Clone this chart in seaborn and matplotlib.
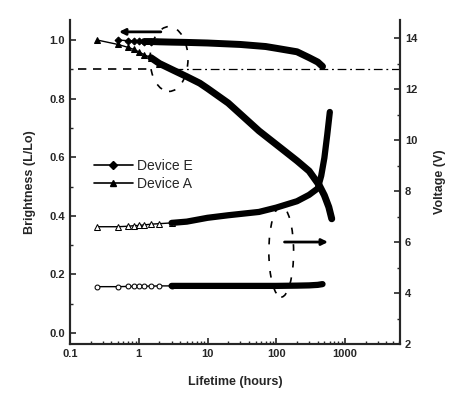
import matplotlib
matplotlib.use("Agg")
import matplotlib.pyplot as plt
from matplotlib.patches import Ellipse
from matplotlib.lines import Line2D
from matplotlib.ticker import MultipleLocator, FuncFormatter, LogLocator
import seaborn as sns

# brightness (left axis)
hours_bright_a = [0.25, 0.5, 0.7, 0.85, 1.0, 1.2, 1.5, 2, 3, 5, 7.7, 10, 20, 56, 110, 200, 300, 420, 500, 580, 640]
bright_a = [1.0, 0.985, 0.975, 0.968, 0.96, 0.95, 0.94, 0.92, 0.90, 0.875, 0.853, 0.835, 0.785, 0.69, 0.636, 0.588, 0.553, 0.505, 0.47, 0.43, 0.39]
hours_bright_e = [0.5, 0.7, 0.85, 1.0, 1.2, 1.5, 2, 3, 5, 10, 30, 70, 100, 200, 300, 400, 470]
bright_e = [1.0, 0.998, 0.997, 0.996, 0.995, 0.995, 0.994, 0.993, 0.992, 0.99, 0.985, 0.978, 0.972, 0.96, 0.94, 0.925, 0.91]

# voltage (right axis)
hours_volt_a = [0.25, 0.5, 0.7, 0.85, 1.0, 1.2, 1.5, 2, 3, 5, 10, 20, 56, 100, 200, 300, 400, 450, 500, 550, 600]
volt_a = [6.6, 6.6, 6.62, 6.64, 6.65, 6.67, 6.7, 6.72, 6.75, 6.8, 6.95, 7.05, 7.18, 7.35, 7.6, 7.85, 8.1, 8.6, 9.3, 10.2, 11.1]
hours_volt_e = [0.25, 0.5, 0.7, 0.85, 1.0, 1.2, 1.5, 2, 3, 5, 10, 30, 100, 200, 300, 400, 470]
volt_e = [4.25, 4.25, 4.26, 4.26, 4.27, 4.27, 4.27, 4.28, 4.28, 4.28, 4.28, 4.28, 4.28, 4.29, 4.3, 4.32, 4.35]

sns.set_style("ticks")
plt.rcParams['font.family'] = ['Liberation Sans', 'DejaVu Sans']

fig = plt.figure(figsize=(4.61, 3.95), dpi=100)
ax = fig.add_axes([0.1518, 0.129, 0.716, 0.82])
ax2 = ax.twinx()

thick = dict(color='k', sort=False, solid_capstyle='round', solid_joinstyle='round')

# thin start with markers, thick dense part afterwards
sns.lineplot(x=hours_bright_a, y=bright_a, ax=ax, color='k', lw=1, marker='^', markersize=5,
             markeredgecolor='k', markevery=slice(0, 8), sort=False)
sns.lineplot(x=hours_bright_a[6:], y=bright_a[6:], ax=ax, lw=5, **thick)
sns.lineplot(x=hours_bright_e, y=bright_e, ax=ax, color='k', lw=1, marker='D', markersize=3.5,
             markeredgecolor='k', markevery=slice(0, 6), sort=False)
sns.lineplot(x=hours_bright_e[4:], y=bright_e[4:], ax=ax, lw=5, **thick)

sns.lineplot(x=hours_volt_a, y=volt_a, ax=ax2, color='k', lw=1, marker='^', markersize=4,
             markerfacecolor='white', markeredgecolor='k', markevery=slice(0, 9), sort=False)
sns.lineplot(x=hours_volt_a[8:], y=volt_a[8:], ax=ax2, lw=4.5, **thick)
sns.lineplot(x=hours_volt_e, y=volt_e, ax=ax2, color='k', lw=1, marker='o', markersize=3.5,
             markerfacecolor='white', markeredgecolor='k', markevery=slice(0, 9), sort=False)
sns.lineplot(x=hours_volt_e[8:], y=volt_e[8:], ax=ax2, lw=4.5, **thick)

# 90% brightness reference
ax.plot([0.13, 1.6], [0.9, 0.9], color='k', lw=1.2, dashes=[5, 4])
ax.plot([3.3, 6300], [0.9, 0.9], color='k', lw=0.9, dashes=[7, 3, 1.5, 3])

# ellipses and arrows marking which axis
ax.add_patch(Ellipse((0.3, 0.88), 0.115, 0.2, transform=ax.transAxes, fill=False,
                     ls=(0, (4, 6)), lw=1.2, color='k'))
ax.add_patch(Ellipse((0.64, 0.285), 0.075, 0.28, transform=ax.transAxes, fill=False,
                     ls=(0, (4, 6)), lw=1.2, color='k'))
ax.annotate('', xy=(0.47, 1.028), xytext=(2.3, 1.028),
            arrowprops=dict(arrowstyle='-|>', color='k', lw=2, mutation_scale=9))
ax2.annotate('', xy=(620, 6.0), xytext=(120, 6.0),
             arrowprops=dict(arrowstyle='-|>', color='k', lw=2, mutation_scale=9))

ax.set_xscale('log')
ax.set_xlim(0.1, 6300)
ax.set_ylim(-0.0375, 1.068)
ax2.set_ylim(2, 14.7)

ax.xaxis.set_major_formatter(FuncFormatter(lambda v, p: f'{v:g}'))
ax.xaxis.set_minor_locator(LogLocator(base=10, subs=range(2, 10), numticks=20))
ax.yaxis.set_major_locator(MultipleLocator(0.2))
ax.yaxis.set_minor_locator(MultipleLocator(0.1))
ax.yaxis.set_major_formatter(FuncFormatter(lambda v, p: f'{v:.1f}'))
ax2.yaxis.set_major_locator(MultipleLocator(2))
ax2.yaxis.set_minor_locator(MultipleLocator(1))

for a in (ax, ax2):
    a.tick_params(which='major', direction='in', length=4, width=1.2, labelsize=8)
    a.tick_params(which='minor', direction='in', length=2, width=1)
    for lab in a.get_xticklabels() + a.get_yticklabels():
        lab.set_fontweight('bold')
    for s in a.spines.values():
        s.set_linewidth(1.5)
    a.spines['top'].set_visible(False)

ax.set_xlabel('Lifetime (hours)', fontsize=9, fontweight='bold', labelpad=12)
ax.set_ylabel('Brightness (L/Lo)', fontsize=9, fontweight='bold', labelpad=10)
ax2.set_ylabel('Voltage (V)', fontsize=9, fontweight='bold', labelpad=12)

handles = [Line2D([], [], color='k', lw=1.2, marker='D', markersize=4),
           Line2D([], [], color='k', lw=1.2, marker='^', markersize=5)]
ax.legend(handles, ['Device E', 'Device A'], loc='upper left', bbox_to_anchor=(0.035, 0.61),
          frameon=False, fontsize=10, handlelength=2.8, handletextpad=0.3, labelspacing=0.3)

fig.savefig('out.png', dpi=100)
